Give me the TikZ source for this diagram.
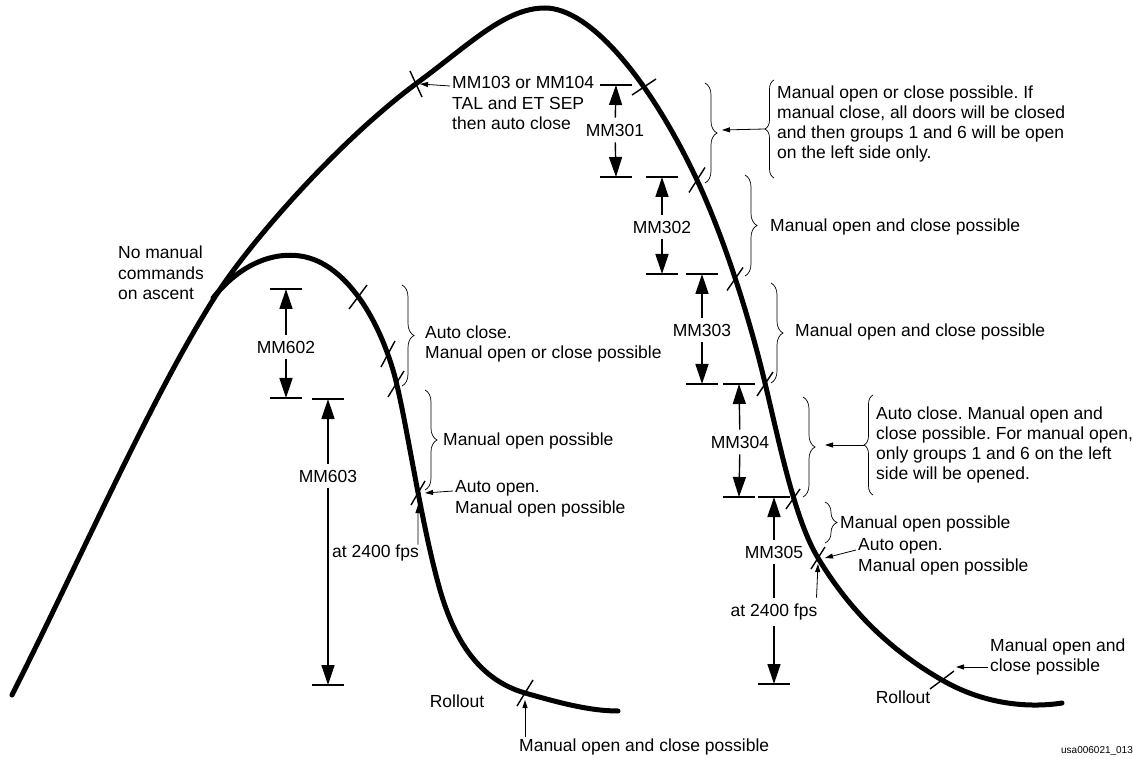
\documentclass[tikz,border=0pt]{standalone}
\usepackage{fontspec}
\setmainfont{Liberation Sans}
\usetikzlibrary{arrows.meta,decorations.pathreplacing}
\frenchspacing

\tikzset{
  traj/.style={line width=5pt,line cap=round,line join=round},
  tickmark/.style={line width=1.4pt},
  bar/.style={line width=1.4pt},
  dim/.style={line width=1.4pt,-{Triangle[length=20pt,width=13pt]}},
  lead/.style={line width=0.8pt,-{Triangle[length=8pt,width=5pt]}},
  brc/.style={decorate,decoration={brace,amplitude=12pt,aspect=0.5},line width=0.7pt},
  brcl/.style={decorate,decoration={brace,amplitude=9pt,aspect=0.5},line width=0.7pt},
  lbl/.style={font=\fontsize{17.5}{20.5}\selectfont,inner sep=2pt,align=left},
  lbltight/.style={font=\fontsize{17.5}{19.8}\selectfont,inner sep=2pt,align=left},
  dimlbl/.style={font=\fontsize{17.5}{20}\selectfont,inner xsep=2pt,inner ysep=6pt},
}

\begin{document}
\begin{tikzpicture}[x=1pt,y=-1pt]
  \useasboundingbox (0,0) rectangle (1133,759);

  % trajectories
  \draw[traj] (12,695) .. controls (80,560) and (150,400) .. (213,300)
    .. controls (250,241) and (340,140) .. (417,83)
    .. controls (470,44) and (505,8) .. (545,8)
    .. controls (590,8) and (650,80) .. (697,180)
    .. controls (725,240) and (750,320) .. (765,383)
    .. controls (780,446) and (795,520) .. (818,558)
    .. controls (850,611) and (890,650) .. (942,680)
    .. controls (985,705) and (1030,708) .. (1062,703);
  \draw[traj] (213,298) .. controls (245,258) and (285,248) .. (315,260)
    .. controls (345,272) and (375,310) .. (393,370)
    .. controls (405,410) and (420,520) .. (440,590)
    .. controls (455,642) and (480,680) .. (525,693)
    .. controls (560,703) and (590,711) .. (618,711);

  % ticks on the curves
  \foreach \n/\x/\y/\dx/\dy in {103/416/84/6/13, 301/644/87/12/-8, 302/697/180/8/-12.5,
      303/735/279/8/-11.5, 304/765/384/8/-12, 305/793/499/7/-10, ao5/818/558/7/-11,
      ro5/942/680/12/-9, 602/358/297/9/-12, 602b/388/354/7/-13, 602c/396/384/8/-13,
      ao6/418/493/7/-12, ro6/525/693/8/-13}{
    \coordinate (t\n) at (\x,\y);
    \draw[tickmark] (t\n) +(-\dx,-\dy) -- +(\dx,\dy);
  }

  % bars
  \foreach \n/\x/\y in {301a/616/85, 301b/616/177, 302a/662/177, 302b/662/274,
      303a/702/274, 303b/702/384, 304a/739/384, 304b/739/497, 305a/774/497, 305b/774/684,
      602a/286/289, 602b/286/398, 603a/328/399, 603b/328/685}{
    \coordinate (b\n) at (\x,\y);
    \draw[bar] ([xshift=-16pt]b\n) -- ([xshift=16pt]b\n);
  }

  % dimension labels
  \node[dimlbl] (m301) at (615,130) {MM301};
  \node[dimlbl] (m302) at (662,227) {MM302};
  \node[dimlbl] (m303) at (702,330) {MM303};
  \node[dimlbl] (m304) at (740,442) {MM304};
  \node[dimlbl] (m305) at (774,552) {MM305};
  \node[dimlbl] (fps5) at (774,612) {at 2400 fps};
  \node[dimlbl] (m602) at (286,347) {MM602};
  \node[dimlbl] (m603) at (328,476) {MM603};

  \foreach \m in {301,302,303,304,602,603}{
    \draw[dim] (m\m) -- (b\m a);
    \draw[dim] (m\m) -- (b\m b);
  }
  \draw[dim] (m305) -- (b305a);
  \draw[bar] (m305) -- (fps5);
  \draw[dim] (fps5) -- (b305b);
  \draw[lead] ([xshift=-3pt]fps5.north east) -- ([yshift=-6pt]tao5);

  % braces
  \draw[brc] (705,83) -- (705,183);
  \draw[brcl] (774,178) -- (774,80);
  \draw[brc] (745,175) -- (745,276);
  \draw[brc] (771,283) -- (771,383);
  \draw[brc] (803,397) -- (803,497);
  \draw[brcl] (873,495) -- (873,395);
  \draw[brc] (825,502) -- (825,543);
  \draw[brc] (402,285) -- (402,386);
  \draw[brc] (425,390) -- (425,490);

  % texts
  \node[lbl,anchor=west] (tal) at (450,103) {MM103 or MM104\\TAL and ET SEP\\then auto close};
  \draw[lead] ([yshift=17pt]tal.west) -- ([xshift=4pt]t103);

  \node[lbl,anchor=west] (asc) at (116,273) {No manual\\commands\\on ascent};

  \node[lbltight,anchor=west] (x301) at (775,124) {Manual open or close possible. If\\manual close, all doors will be closed\\and then groups 1 and 6 will be open\\on the left side only.};
  \draw[lead] (765,129) -- (722,130);

  \node[lbl,anchor=west] (x302) at (768,227) {Manual open and close possible};
  \node[lbl,anchor=west] (x303) at (793,332) {Manual open and close possible};

  \node[lbltight,anchor=west] (x304) at (874,445) {Auto close. Manual open and\\close possible. For manual open,\\only groups 1 and 6 on the left\\side will be opened.};
  \draw[lead] ([xshift=-10pt]x304.west) -- (825,445);

  \node[lbl,anchor=west] (x305) at (838,524) {Manual open possible};
  \node[lbl,anchor=west] (ao5) at (856,557) {Auto open.\\Manual open possible};
  \draw[lead] ([yshift=7pt]ao5.west) -- ([xshift=7pt]tao5);

  \node[lbl] (ro5) at (903,697) {Rollout};
  \node[lbl,anchor=west] (mc5) at (988,657) {Manual open and\\close possible};
  \draw[lead] ([yshift=-10pt]mc5.west) -- (956,667);

  \node[lbl,anchor=west] (x602) at (423,344) {Auto close.\\Manual open or close possible};
  \node[lbl,anchor=west] (x603) at (441,441) {Manual open possible};
  \node[lbl,anchor=west] (ao6) at (453,499) {Auto open.\\Manual open possible};
  \draw[lead] ([yshift=8pt]ao6.west) -- ([xshift=7pt]tao6);

  \node[lbl,anchor=west] (fps6) at (330,553) {at 2400 fps};
  \draw[lead] ([xshift=-3pt,yshift=-2pt]fps6.north east) -- ([yshift=-12pt]tao6);

  \node[lbl] (ro6) at (457,701) {Rollout};
  \node[lbl,anchor=west] (mc6) at (517,747) {Manual open and close possible};
  \draw[lead] ([xshift=8pt]mc6.north west) -- ([yshift=-7pt]tro6);

  \node[font=\fontsize{10}{11}\selectfont] (ref) at (1097,751) {usa006021\_013};
\end{tikzpicture}
\end{document}
